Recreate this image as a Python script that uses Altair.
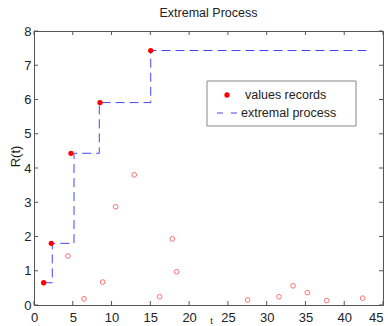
import altair as alt
import pandas as pd

# ---- data ----
rec_t = [1.25, 2.23, 4.77, 8.51, 15.05]
rec_r = [0.65, 1.80, 4.43, 5.91, 7.43]
other_t = [4.38, 6.45, 8.86, 10.53, 12.93, 16.2, 17.83, 18.4, 27.55, 31.59, 33.4, 35.24, 37.74, 42.38]
other_r = [1.43, 0.18, 0.67, 2.87, 3.80, 0.24, 1.93, 0.97, 0.15, 0.24, 0.56, 0.36, 0.13, 0.20]
step_t = [1.25, 2.36, 2.36, 5.16, 5.16, 8.42, 8.42, 15.05, 15.05, 42.9]
step_r = [0.65, 0.65, 1.80, 1.80, 4.43, 4.43, 5.91, 5.91, 7.43, 7.43]
xticks = [0, 5, 10, 15, 20, 25, 30, 35, 40, 45]
yticks = [0, 1, 2, 3, 4, 5, 6, 7, 8]

W, H = 349, 274
FONT = "Liberation Sans"
FRAME = "#555555"

rec_df = pd.DataFrame({"t": rec_t, "r": rec_r})
oth_df = pd.DataFrame({"t": other_t, "r": other_r})
step_df = pd.DataFrame({"t": step_t, "r": step_r, "o": list(range(len(step_t)))})
xt_df = pd.DataFrame({"t": xticks})
yt_df = pd.DataFrame({"r": yticks})
one = pd.DataFrame({"a": [0]})

xscale = alt.Scale(domain=[0, 45], nice=False, zero=False)
yscale = alt.Scale(domain=[0, 8], nice=False, zero=False)

last_x = xticks[-1]
xaxis = alt.Axis(values=xticks, tickSize=0, labelPadding=6, labelFontSize=13, labelFont=FONT,
                 labelColor="#222222", domainColor=FRAME, grid=False, title="t",
                 labelOverlap=False, labelFlush=False,
                 labelAlign={"condition": {"test": f"datum.value == {last_x}", "value": "right"},
                             "value": "center"},
                 titleFont=FONT, titleFontSize=9, titleFontWeight="normal", titleColor="#222222",
                 titleY=11, titleX=177, titleBaseline="top")
yaxis = alt.Axis(values=yticks, tickSize=0, labelPadding=3, labelFontSize=13, labelFont=FONT,
                 labelColor="#222222", domainColor=FRAME, grid=False, title="R(t)",
                 labelOverlap=False, labelFlush=False,
                 titleFont=FONT, titleFontSize=13, titleFontWeight="normal", titleColor="#222222",
                 titleY=125, titleX=-19, titleBaseline="middle", titleAngle=-90)

X = alt.X("t:Q", scale=xscale, axis=xaxis)
Y = alt.Y("r:Q", scale=yscale, axis=yaxis)

step = alt.Chart(step_df).mark_line(color="#4444ff", strokeWidth=1, strokeDash=[9, 5]).encode(
    x=X, y=Y, order="o:Q")

others = alt.Chart(oth_df).mark_point(shape="circle", filled=False, color="#ff3333",
                                      size=22, strokeWidth=1).encode(x=X, y=Y)

records = alt.Chart(rec_df).mark_point(shape="circle", filled=True, color="#ff0000",
                                       size=28, opacity=1).encode(x=X, y=Y)

# inward ticks on all four sides
tb = alt.Chart(xt_df).mark_rule(color=FRAME).encode(x=X, y=alt.value(H - 4), y2=alt.value(H))
tt = alt.Chart(xt_df).mark_rule(color=FRAME).encode(x=X, y=alt.value(0), y2=alt.value(4))
tl = alt.Chart(yt_df).mark_rule(color=FRAME).encode(y=Y, x=alt.value(0), x2=alt.value(4))
tr = alt.Chart(yt_df).mark_rule(color=FRAME).encode(y=Y, x=alt.value(W - 4), x2=alt.value(W))

# legend box
lbox = alt.Chart(one).mark_rect(fill="white", stroke="#888888", strokeWidth=1).encode(
    x=alt.value(173), x2=alt.value(322), y=alt.value(50), y2=alt.value(95))
ldot = alt.Chart(one).mark_point(shape="circle", filled=True, color="#ff0000", size=28, opacity=1).encode(
    x=alt.value(193), y=alt.value(64))
lline = alt.Chart(one).mark_rule(color="#4444ff", strokeWidth=1, strokeDash=[6, 8]).encode(
    x=alt.value(183), x2=alt.value(206), y=alt.value(82))
ltxt1 = alt.Chart(one).mark_text(text="values records", align="left", baseline="middle",
                                 font=FONT, fontSize=12.5, color="#222222").encode(
    x=alt.value(211), y=alt.value(64))
ltxt2 = alt.Chart(one).mark_text(text="extremal process", align="left", baseline="middle",
                                 font=FONT, fontSize=12.5, color="#222222").encode(
    x=alt.value(207), y=alt.value(82))

chart = alt.layer(step, others, records, tb, tt, tl, tr, lbox, ldot, lline, ltxt1, ltxt2).properties(
    width=W, height=H,
    title=alt.TitleParams("Extremal Process", font=FONT, fontSize=12.5, fontWeight="normal",
                          color="#222222", offset=6, anchor="middle"),
    autosize=alt.AutoSizeParams(type="none"),
    padding={"left": 34, "top": 31, "right": 5, "bottom": 21},
    background="white",
).configure_view(stroke=FRAME, strokeWidth=1)

chart.save("out.html", embed_options={"renderer": "svg", "actions": False})
